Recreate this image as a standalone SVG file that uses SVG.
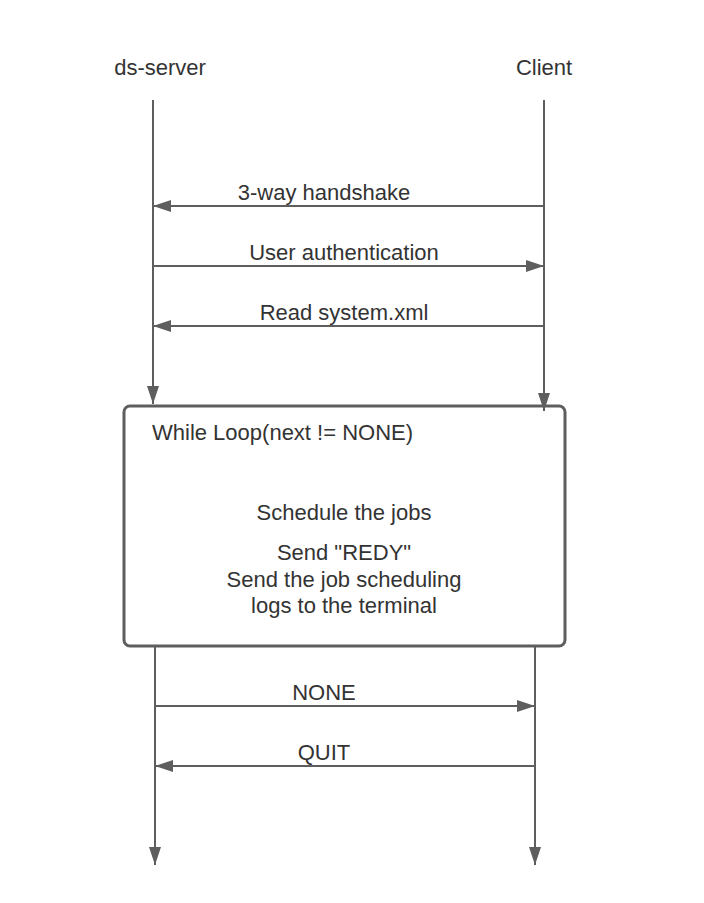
<svg xmlns="http://www.w3.org/2000/svg" width="704" height="903" viewBox="0 0 704 903">
<style>
text{font-family:"Liberation Sans",Arial,sans-serif;font-size:22px;fill:#333333}
.c{text-anchor:middle}
.ln{stroke:#5e5e5e;stroke-width:2;fill:none}
.box{stroke:#5e5e5e;stroke-width:3;fill:#ffffff}
</style>
<defs>
<marker id="ah" viewBox="0 0 18 12" refX="18" refY="6" markerWidth="18" markerHeight="12" markerUnits="userSpaceOnUse" orient="auto">
<path d="M0,0 L18,6 L0,12 Z" fill="#5e5e5e"/>
</marker>
</defs>
<rect width="704" height="903" fill="#ffffff"/>
<g id="ds-server"><text class="c" x="160" y="75">ds-server</text></g>
<g id="client"><text class="c" x="544" y="75">Client</text></g>
<g id="loop">
<rect class="box" x="124" y="406" width="441" height="240" rx="6"/>
<text x="152" y="440">While Loop(next != NONE)</text>
<text class="c" x="344" y="520">Schedule the jobs</text>
<text class="c" x="344" y="560">Send "REDY"</text>
<text class="c" x="344" y="587">Send the job scheduling</text>
<text class="c" x="344" y="613">logs to the terminal</text>
</g>
<g id="connectors">
<line class="ln" x1="153" y1="100" x2="153" y2="404" marker-end="url(#ah)"/>
<line class="ln" x1="544" y1="100" x2="544" y2="411" marker-end="url(#ah)"/>
<line class="ln" x1="544" y1="206" x2="153" y2="206" marker-end="url(#ah)"/>
<line class="ln" x1="153" y1="266" x2="544" y2="266" marker-end="url(#ah)"/>
<line class="ln" x1="544" y1="326" x2="153" y2="326" marker-end="url(#ah)"/>
<line class="ln" x1="155" y1="647" x2="155" y2="865" marker-end="url(#ah)"/>
<line class="ln" x1="535" y1="647" x2="535" y2="865" marker-end="url(#ah)"/>
<line class="ln" x1="155" y1="706" x2="535" y2="706" marker-end="url(#ah)"/>
<line class="ln" x1="535" y1="766" x2="155" y2="766" marker-end="url(#ah)"/>
<text class="c" x="324" y="200">3-way handshake</text>
<text class="c" x="344" y="260">User authentication</text>
<text class="c" x="344" y="320">Read system.xml</text>
<text class="c" x="324" y="700">NONE</text>
<text class="c" x="324" y="760">QUIT</text>
</g>
</svg>
